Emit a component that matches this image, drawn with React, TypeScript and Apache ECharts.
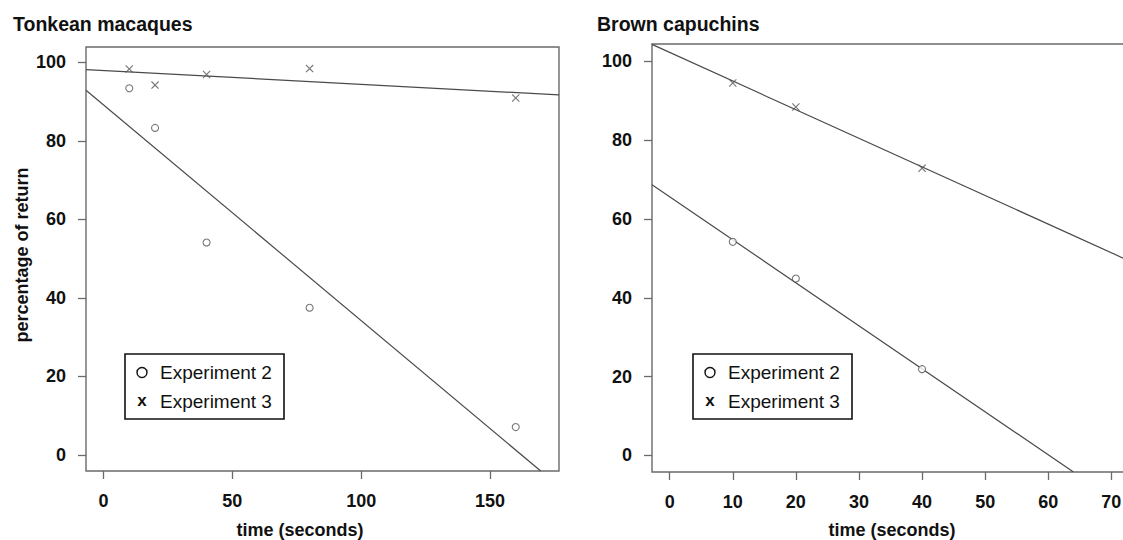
import React, { useEffect, useRef } from "react";
import * as echarts from "echarts";

// ---- data ----
const panelTitles = ["Tonkean macaques", "Brown capuchins"];
const xAxisTitle = "time (seconds)";
const yAxisTitle = "percentage of return";
const legendLabels = ["Experiment 2", "Experiment 3"];
const legendMarks = ["", "x"];

const yTicks = [0, 20, 40, 60, 80, 100];

const tonkeanTime = [10, 20, 40, 80, 160];
const tonkeanExp2 = [93.4, 83.3, 54.1, 37.5, 7.1];
const tonkeanExp3 = [98.3, 94.2, 96.9, 98.4, 90.9];
const tonkeanFit2 = [[-6.8, 92.9], [169.7, -4.08]];
const tonkeanFit3 = [[-6.8, 98.15], [176.8, 91.7]];
const tonkeanXTicks = [0, 50, 100, 150];
const tonkeanXRange = [-6.8, 176.8];
const tonkeanYRange = [-4.08, 103.9];

const capuchinTime = [10, 20, 40];
const capuchinExp2 = [54.2, 44.9, 21.9];
const capuchinExp3 = [94.5, 88.4, 72.9];
const capuchinFit2 = [[-2.8, 68.7], [64.0, -4.2]];
const capuchinFit3 = [[-2.8, 104.3], [72.8, 49.4]];
const capuchinXTicks = [0, 10, 20, 30, 40, 50, 60, 70];
const capuchinXRange = [-2.8, 72.8];
const capuchinYRange = [-4.2, 104.4];

const FONT = "'Liberation Sans', Arial, Helvetica, sans-serif";
const CROSS = "path://M0,1L1,0L5,4L9,0L10,1L6,5L10,9L9,10L5,6L1,10L0,9L4,5Z";

function zip(xs: number[], ys: number[]) {
  return xs.map((x, i) => [x, ys[i]]);
}

function makeXAxis(gridIndex: number, range: number[], ticks: number[]) {
  return {
    type: "value",
    gridIndex,
    min: range[0],
    max: range[1],
    position: "bottom",
    axisLine: { show: false, onZero: false },
    splitLine: { show: false },
    axisTick: {
      show: true,
      inside: false,
      length: 8,
      customValues: ticks,
      lineStyle: { color: "#6a6a6a", width: 1.3 },
    },
    axisLabel: {
      show: true,
      customValues: ticks,
      margin: 21,
      fontSize: 18,
      lineHeight: 18,
      fontWeight: "bold",
      fontFamily: FONT,
      color: "#111",
    },
  };
}

function makeYAxis(gridIndex: number, range: number[]) {
  return {
    type: "value",
    gridIndex,
    min: range[0],
    max: range[1],
    position: "left",
    axisLine: { show: false, onZero: false },
    splitLine: { show: false },
    axisTick: {
      show: true,
      inside: false,
      length: 8,
      customValues: yTicks,
      lineStyle: { color: "#6a6a6a", width: 1.3 },
    },
    axisLabel: {
      show: true,
      customValues: yTicks,
      margin: 20,
      fontSize: 18,
      fontWeight: "bold",
      fontFamily: FONT,
      color: "#111",
    },
  };
}

function scatter(idx: number, data: number[][], cross: boolean) {
  return {
    type: "scatter",
    xAxisIndex: idx,
    yAxisIndex: idx,
    data,
    symbol: cross ? CROSS : "circle",
    symbolSize: cross ? 8 : 7,
    itemStyle: cross
      ? { color: "#555" }
      : { color: "#ffffff", borderColor: "#555", borderWidth: 1.1 },
    z: 3,
  };
}

function fitLine(idx: number, data: number[][]) {
  return {
    type: "line",
    xAxisIndex: idx,
    yAxisIndex: idx,
    data,
    symbol: "none",
    clip: true,
    lineStyle: { color: "#4a4a4a", width: 1.2 },
    z: 2,
  };
}

function legend(x: number, y: number) {
  return {
    type: "group",
    x,
    y,
    children: [
      {
        type: "rect",
        shape: { x: 0, y: 0, width: 159, height: 65 },
        style: { fill: "#fff", stroke: "#111", lineWidth: 1.6 },
        z: 10,
      },
      {
        type: "circle",
        shape: { cx: 17, cy: 18.5, r: 5 },
        style: { fill: "#fff", stroke: "#111", lineWidth: 1.4 },
        z: 11,
      },
      {
        type: "text",
        x: 17,
        y: 46,
        style: {
          text: legendMarks[1],
          font: `bold 17px ${FONT}`,
          fill: "#111",
          align: "center",
          verticalAlign: "middle",
        },
        z: 11,
      },
      {
        type: "text",
        x: 35,
        y: 18.5,
        style: {
          text: legendLabels[0],
          font: `19px ${FONT}`,
          fill: "#111",
          align: "left",
          verticalAlign: "middle",
        },
        z: 11,
      },
      {
        type: "text",
        x: 35,
        y: 47,
        style: {
          text: legendLabels[1],
          font: `19px ${FONT}`,
          fill: "#111",
          align: "left",
          verticalAlign: "middle",
        },
        z: 11,
      },
    ],
  };
}

function textEl(text: string, x: number, y: number, font: string, align = "center", rotation = 0) {
  return {
    type: "text",
    x,
    y,
    rotation,
    style: { text, font, fill: "#111", align, verticalAlign: "middle" },
    z: 10,
  };
}

export default function App() {
  const ref = useRef<HTMLDivElement>(null);

  useEffect(() => {
    if (!ref.current) return;
    const chart = echarts.init(ref.current, null, { renderer: "svg" });
    const option = {
      animation: false,
      backgroundColor: "#ffffff",
      grid: [
        {
          left: 86,
          top: 47,
          width: 473,
          height: 424,
          show: true,
          borderColor: "#6a6a6a",
          borderWidth: 1.4,
          backgroundColor: "transparent",
          containLabel: false,
          outerBoundsMode: "none",
        },
        {
          left: 652,
          top: 44,
          width: 477,
          height: 428,
          show: true,
          borderColor: "#6a6a6a",
          borderWidth: 1.4,
          backgroundColor: "transparent",
          containLabel: false,
          outerBoundsMode: "none",
        },
      ],
      xAxis: [
        makeXAxis(0, tonkeanXRange, tonkeanXTicks),
        makeXAxis(1, capuchinXRange, capuchinXTicks),
      ],
      yAxis: [makeYAxis(0, tonkeanYRange), makeYAxis(1, capuchinYRange)],
      series: [
        fitLine(0, tonkeanFit2),
        fitLine(0, tonkeanFit3),
        scatter(0, zip(tonkeanTime, tonkeanExp2), false),
        scatter(0, zip(tonkeanTime, tonkeanExp3), true),
        fitLine(1, capuchinFit2),
        fitLine(1, capuchinFit3),
        scatter(1, zip(capuchinTime, capuchinExp2), false),
        scatter(1, zip(capuchinTime, capuchinExp3), true),
      ],
      graphic: [
        textEl(panelTitles[0], 13, 24, `bold 19.5px ${FONT}`, "left"),
        textEl(panelTitles[1], 597, 24, `bold 19.5px ${FONT}`, "left"),
        textEl(xAxisTitle, 300, 530, `bold 18px ${FONT}`),
        textEl(xAxisTitle, 892, 530, `bold 18px ${FONT}`),
        textEl(yAxisTitle, 22, 255, `bold 18px ${FONT}`, "center", Math.PI / 2),
        legend(125, 354),
        legend(693, 354),
      ],
    };
    chart.setOption(option as any);
    return () => chart.dispose();
  }, []);

  return (
    <div
      ref={ref}
      style={{ position: "fixed", left: 0, top: 0, width: 1123, height: 540, background: "#fff" }}
    />
  );
}
